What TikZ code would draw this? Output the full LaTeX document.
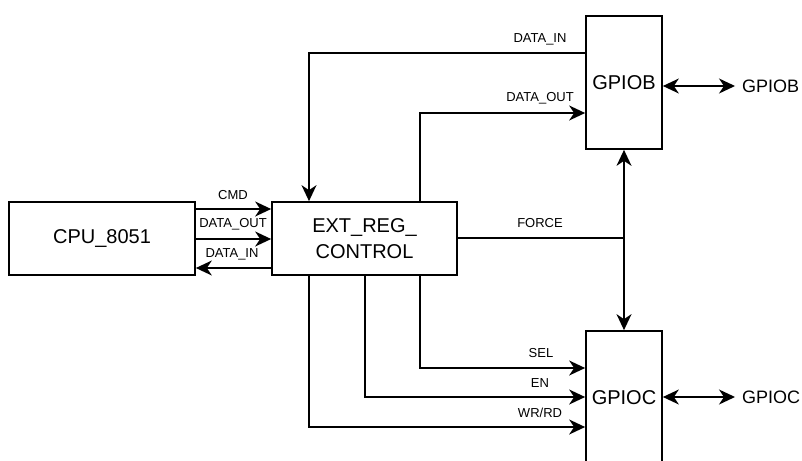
\documentclass[tikz,border=0pt]{standalone}
\usepackage{fontspec}
\setmainfont{Liberation Sans}
\usetikzlibrary{arrows.meta}
\tikzset{
  sigtip/.tip={Stealth[length=16pt,width=15pt,inset=5pt]}
}
\begin{document}
\begin{tikzpicture}[x=1pt,y=-1pt,
  block/.style={draw,line width=1.7pt,inner sep=0pt,font=\fontsize{20}{26}\selectfont,align=center},
  sig/.style={font=\fontsize{13}{15}\selectfont,inner sep=0pt},
  pinlabel/.style={font=\fontsize{18}{21}\selectfont,inner sep=0pt,anchor=west},
  wire/.style={line width=1.7pt},
  arr/.style={wire,-sigtip},
  biarr/.style={wire,sigtip-sigtip}]
\useasboundingbox (0,0) rectangle (802,460);

% blocks
\node[block,minimum width=186,minimum height=73] (cpu) at (102,238.5) {CPU\_8051};
\node[block,minimum width=185,minimum height=73] (ext) at (364.5,238.5) {EXT\_REG\_\\CONTROL};
\node[block,minimum width=76,minimum height=133] (gpiob) at (624,82.5) {GPIOB};
\node[block,minimum width=76,minimum height=133] (gpioc) at (624,397.5) {GPIOC};

% external pins
\coordinate (pinb) at (735,86);
\coordinate (pinc) at (735,397);
\node[pinlabel] (lblb) at (742,86) {GPIOB};
\node[pinlabel] (lblc) at (742,397) {GPIOC};

% CPU <-> EXT_REG_CONTROL bus
\draw[arr] (cpu.east |- 0,209) -- (ext.west |- 0,209);
\draw[arr] (cpu.east |- 0,239) -- (ext.west |- 0,239);
\draw[arr] (ext.west |- 0,268) -- (cpu.east |- 0,268);
\node[sig] (lcmd) at (233,195) {CMD};
\node[sig] (ldo) at (233,224) {DATA\_OUT};
\node[sig] (ldi) at (232,254) {DATA\_IN};

% GPIOB data paths
\draw[arr] (gpiob.west |- 0,53) -| (ext.north -| 309,0);
\draw[arr] (ext.north -| 420,0) |- (gpiob.west |- 0,113);
\node[sig] (lbin) at (540,39) {DATA\_IN};
\node[sig] (lbout) at (540,98) {DATA\_OUT};

% FORCE line into the GPIOB/GPIOC link
\draw[wire] (ext.east |- 0,238) -- (gpiob.south |- 0,238);
\draw[biarr] (gpiob.south) -- (gpioc.north);
\node[sig] (lforce) at (540,223) {FORCE};

% GPIOC control lines
\draw[arr] (ext.south -| 420,0) |- (gpioc.west |- 0,368);
\draw[arr] (ext.south -| 365,0) |- (gpioc.west |- 0,397);
\draw[arr] (ext.south -| 309,0) |- (gpioc.west |- 0,427);
\node[sig] (lsel) at (541,353) {SEL};
\node[sig] (len) at (540,383) {EN};
\node[sig] (lwr) at (540,413) {WR/RD};

% pin connections
\draw[biarr] (gpiob.east |- pinb) -- (pinb);
\draw[biarr] (gpioc.east |- pinc) -- (pinc);
\end{tikzpicture}
\end{document}
